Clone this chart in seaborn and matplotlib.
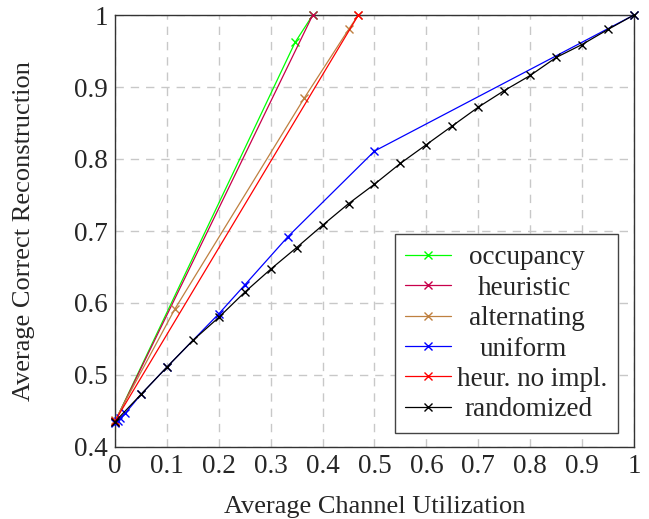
import matplotlib
matplotlib.use('Agg')
import matplotlib.pyplot as plt
import numpy as np
import pandas as pd
import seaborn as sns

#%%
'''DATA'''
occ_x = [0.0, 0.347, 0.381]
occ_y = [0.435, 0.962, 1.0]

heur_x = [0.0, 0.381]
heur_y = [0.435, 1.0]

alt_x = [0.0, 0.1156, 0.365, 0.451, 0.469]
alt_y = [0.437, 0.592, 0.885, 0.981, 1.0]

uni_x = [0.0, 0.005, 0.01, 0.02, 0.05, 0.1, 0.2, 0.25, 0.333, 0.5, 1.0]
uni_y = [0.433, 0.436, 0.440, 0.447, 0.473, 0.511, 0.585, 0.625, 0.692, 0.811, 1.0]

noimpl_x = [0.0, 0.469]
noimpl_y = [0.436, 1.0]

rand_x = [0.0, 0.05, 0.1, 0.15, 0.2, 0.25, 0.3, 0.35, 0.4, 0.45, 0.5,
          0.55, 0.6, 0.65, 0.7, 0.75, 0.8, 0.85, 0.9, 0.95, 1.0]
rand_y = [0.435, 0.473, 0.511, 0.548, 0.580, 0.615, 0.647, 0.677, 0.708, 0.738, 0.765,
          0.794, 0.820, 0.846, 0.872, 0.895, 0.916, 0.941, 0.959, 0.980, 1.0]

series = [
    ('occupancy', occ_x, occ_y, '#00ff00'),
    ('heuristic', heur_x, heur_y, '#c8004b'),
    ('alternating', alt_x, alt_y, '#bf8040'),
    ('uniform', uni_x, uni_y, '#0000ff'),
    ('heur. no impl.', noimpl_x, noimpl_y, '#ff0000'),
    ('randomized', rand_x, rand_y, '#000000'),
]

#%%
'''PLOT'''
sns.set_style('white')
plt.rcParams['font.family'] = ['Liberation Serif', 'DejaVu Serif']

fig = plt.figure(figsize=(6.49, 5.19), dpi=100)
ax = fig.add_axes([115/649, 1 - 447/519, 519/649, 432/519])

for name, xs, ys, col in series:
    df = pd.DataFrame({'x': xs, 'y': ys})
    sns.lineplot(data=df, x='x', y='y', color=col, marker='x', markersize=6,
                 markeredgewidth=1.0, markeredgecolor=col, linewidth=0.9,
                 label=name, sort=False, clip_on=False, zorder=3, ax=ax)

ax.set_xlim(0, 1)
ax.set_ylim(0.4, 1)
ax.set_xticks(np.arange(0, 1.01, 0.1))
ax.set_yticks(np.arange(0.4, 1.01, 0.1))
ax.set_xticklabels(['0', '0.1', '0.2', '0.3', '0.4', '0.5', '0.6', '0.7', '0.8', '0.9', '1'])
ax.set_yticklabels(['0.4', '0.5', '0.6', '0.7', '0.8', '0.9', '1'])
ax.tick_params(direction='in', length=5, color='#888888', labelsize=19.5, pad=5)
ax.grid(True, linestyle=(0, (6, 5)), color='#c8c8c8', linewidth=1.0)
for s in ax.spines.values():
    s.set_color('#333333')
    s.set_linewidth(1.0)

ax.set_xlabel('Average Channel Utilization', fontsize=19, labelpad=12)
ax.set_ylabel('Average Correct Reconstruction', fontsize=19, labelpad=28)

leg = ax.legend(loc='lower right', bbox_to_anchor=(0.969, 0.032), fontsize=19.5,
                fancybox=False, framealpha=1, edgecolor='#444444',
                handlelength=1.7, handletextpad=0.2, borderpad=0.4,
                labelspacing=0.2, borderaxespad=0)
leg.get_frame().set_linewidth(1.0)
leg.set_zorder(5)

# center the legend texts like pgfplots does
fig.canvas.draw()
texts = leg.get_texts()
widths = [t.get_window_extent().width for t in texts]
maxw = max(widths)
for t, w in zip(texts, widths):
    t.set_x((maxw - w) / 2 * 72 / fig.dpi)

fig.savefig('out.png', dpi=100)
